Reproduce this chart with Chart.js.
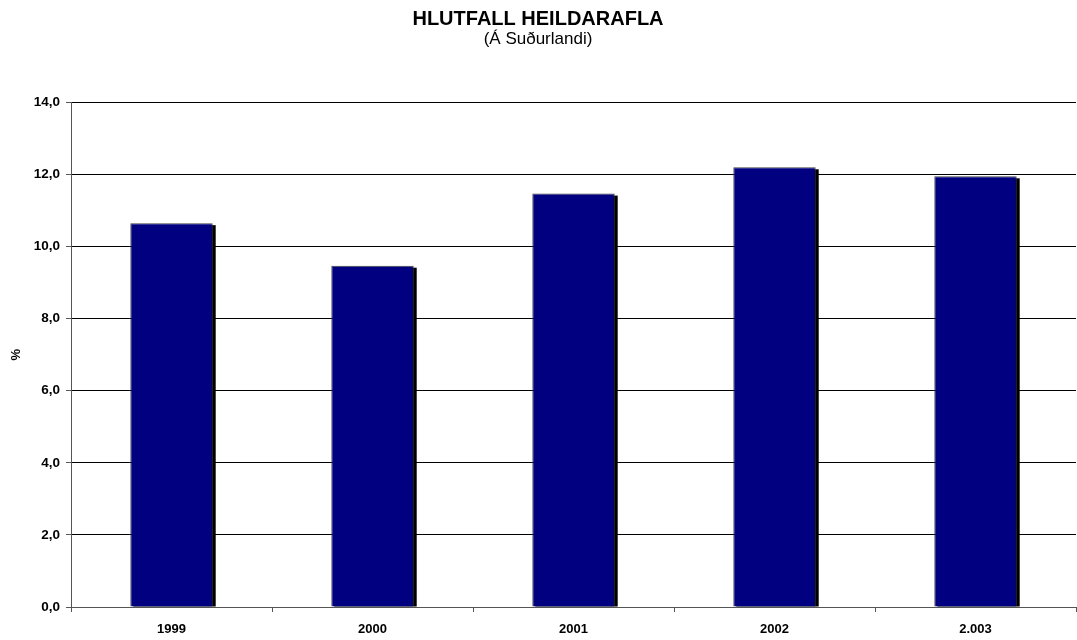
<!DOCTYPE html>
<html>
<head>
<meta charset="utf-8">
<script src="https://cdn.jsdelivr.net/npm/chart.js@4.4.1/dist/chart.umd.min.js"></script>
<style>
  body { margin: 0; background: #fff; }
  #wrap { width: 1077px; height: 640px; position: relative; }
</style>
</head>
<body>
<div id="wrap"><canvas id="chart"></canvas></div>
<script>
const years = ['1999', '2000', '2001', '2002', '2.003'];
const shares = [10.65, 9.47, 11.47, 12.2, 11.95];
const yTicks = [0, 2, 4, 6, 8, 10, 12, 14];

// black drop shadow behind each bar, like the old Excel chart
const barShadow = {
    id: 'barShadow',
    beforeDatasetsDraw: function(chart) {
        const ctx = chart.ctx;
        const meta = chart.getDatasetMeta(0);
        ctx.save();
        ctx.fillStyle = '#000';
        meta.data.forEach(bar => {
            const w = bar.width;
            ctx.fillRect(bar.x - w / 2 + 3, bar.y + 2, w, bar.base - bar.y - 2);
        });
        ctx.restore();
    }
};

const ctx = document.getElementById('chart').getContext('2d');
new Chart(ctx, {
    type: 'bar',
    data: {
        labels: years,
        datasets: [{
            data: shares,
            backgroundColor: '#000080',
            borderColor: '#404040',
            borderWidth: 1,
            borderSkipped: 'bottom',
            categoryPercentage: 1,
            barPercentage: 0.41
        }]
    },
    options: {
        responsive: true,
        maintainAspectRatio: false,
        animation: false,
        layout: { padding: { left: 0, right: 1, top: 0, bottom: 0 } },
        plugins: {
            legend: { display: false },
            tooltip: { enabled: false },
            title: {
                display: true,
                text: 'HLUTFALL HEILDARAFLA',
                color: '#000',
                font: { family: 'Liberation Sans, Arial', size: 20, weight: 'bold' },
                padding: { top: 7, bottom: -2 }
            },
            subtitle: {
                display: true,
                text: '(Á Suðurlandi)',
                color: '#000',
                font: { family: 'Liberation Sans, Arial', size: 17 },
                padding: { top: 0, bottom: 53 }
            }
        },
        scales: {
            x: {
                grid: {
                    offset: true,
                    drawOnChartArea: false,
                    tickLength: 5,
                    color: '#555'
                },
                border: { color: '#555' },
                ticks: {
                    color: '#000',
                    padding: 10,
                    font: { family: 'Liberation Sans, Arial', size: 13, weight: 'bold' }
                },
                afterFit: function(scale) { scale.height = 33; }
            },
            y: {
                min: 0,
                max: 14,
                afterBuildTicks: function(scale) {
                    scale.ticks = yTicks.map(v => ({ value: v }));
                },
                grid: {
                    color: '#000',
                    tickLength: 5,
                    tickColor: '#555'
                },
                border: { color: '#555' },
                title: {
                    display: true,
                    text: '%',
                    color: '#000',
                    font: { family: 'Liberation Sans, Arial', size: 13, weight: 'bold' },
                    padding: { top: 9, bottom: 0 }
                },
                ticks: {
                    color: '#000',
                    padding: 6,
                    font: { family: 'Liberation Sans, Arial', size: 13.5, weight: 'bold' },
                    callback: v => v.toFixed(1).replace('.', ',')
                },
                afterFit: function(scale) { scale.width = 71; }
            }
        }
    },
    plugins: [barShadow]
});
</script>
</body>
</html>
